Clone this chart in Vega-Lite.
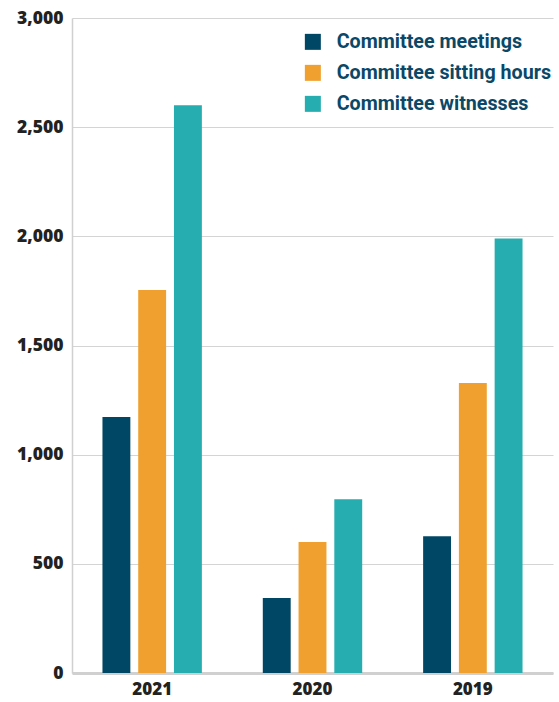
{
  "$schema": "https://vega.github.io/schema/vega-lite/v6.json",
  "width": 481,
  "height": 655,
  "autosize": {"type": "none"},
  "padding": {"left": 72, "top": 18, "right": 6, "bottom": 29},
  "background": "white",
  "data": {
    "values": [
      {"year": "2021", "series": "Committee meetings", "value": 1172},
      {"year": "2021", "series": "Committee sitting hours", "value": 1754},
      {"year": "2021", "series": "Committee witnesses", "value": 2600},
      {"year": "2020", "series": "Committee meetings", "value": 343},
      {"year": "2020", "series": "Committee sitting hours", "value": 600},
      {"year": "2020", "series": "Committee witnesses", "value": 796},
      {"year": "2019", "series": "Committee meetings", "value": 626},
      {"year": "2019", "series": "Committee sitting hours", "value": 1328},
      {"year": "2019", "series": "Committee witnesses", "value": 1990}
    ]
  },
  "config": {
    "view": {"stroke": null},
    "font": "Open Sans"
  },
  "layer": [
    {
      "mark": {"type": "bar"},
      "encoding": {
        "x": {
          "field": "year", "type": "nominal", "sort": ["2021", "2020", "2019"],
          "scale": {"paddingInner": 0.38, "paddingOuter": 0.19},
          "axis": {
            "title": null, "labelAngle": 0, "ticks": false,
            "domainColor": "#d0d0d0", "domainWidth": 3,
            "labelFont": "Open Sans", "labelFontWeight": 800, "labelFontSize": 17,
            "labelColor": "#222222", "labelPadding": 8
          }
        },
        "xOffset": {
          "field": "series", "type": "nominal",
          "scale": {"paddingInner": 0.22, "paddingOuter": 0}
        },
        "y": {
          "field": "value", "type": "quantitative",
          "scale": {"domain": [0, 3000]},
          "axis": {
            "title": null, "values": [0, 500, 1000, 1500, 2000, 2500, 3000],
            "format": ",.0f", "ticks": false, "domainColor": "#d0d0d0", "domainWidth": 1.5,
            "gridColor": "#d4d4d4", "gridWidth": 1.2,
            "labelFont": "Open Sans", "labelFontWeight": 800, "labelFontSize": 17.5,
            "labelColor": "#222222", "labelPadding": 9
          }
        },
        "color": {
          "field": "series", "type": "nominal",
          "scale": {
            "domain": ["Committee meetings", "Committee sitting hours", "Committee witnesses"],
            "range": ["#004766", "#F0A02E", "#26ADB0"]
          },
          "legend": {
            "title": null, "orient": "none", "legendX": 231, "legendY": 14,
            "symbolType": "square", "symbolSize": 256, "symbolStrokeWidth": 0,
            "labelFont": "Roboto", "labelFontWeight": "bold", "labelFontSize": 19.7,
            "labelColor": "#0B4766", "rowPadding": 10, "labelOffset": 14, "labelLimit": 300
          }
        }
      }
    }
  ]
}
